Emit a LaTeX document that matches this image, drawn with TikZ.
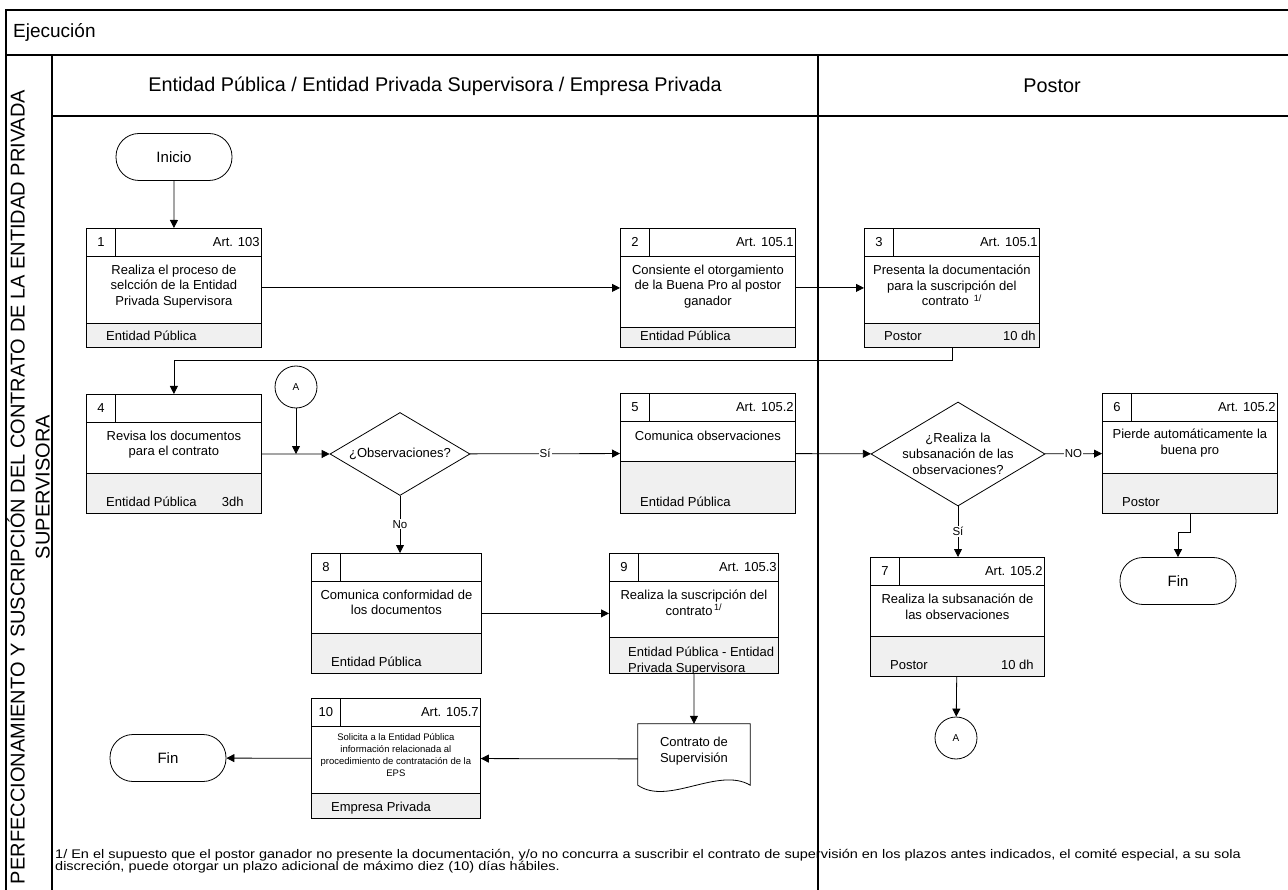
\documentclass[tikz,border=0pt]{standalone}
\usepackage{fontspec}
\setmainfont{Liberation Sans}
\usetikzlibrary{calc,arrows.meta,positioning,shapes.geometric}
\definecolor{footgray}{RGB}{240,240,240}

% activity box: name, left, top, width, height, footer height, number, article
\newcommand{\actbox}[8]{%
  \node[boxframe,minimum width=#4pt,minimum height=#5pt,anchor=north west] (#1) at (#2,#3) {};
  \node[footbar,minimum width=#4pt,minimum height=#6pt,anchor=south west] (#1f) at (#1.south west) {};
  \node[hdrbar,minimum width=#4pt,anchor=north west] (#1h) at (#1.north west) {};
  \node[numcell,anchor=north west] (#1n) at (#1.north west) {#7};
  \node[arttxt,anchor=east] (#1a) at ($(#1h.east)+(-2,0)$) {#8};
}

\begin{document}
\begin{tikzpicture}[x=1pt,y=-1pt,
    lane/.style={line width=1.2pt},
    boxframe/.style={draw,line width=0.8pt,fill=white,inner sep=0pt},
    hdrbar/.style={draw,line width=0.8pt,minimum height=28pt,inner sep=0pt},
    footbar/.style={draw,line width=0.8pt,fill=footgray,inner sep=0pt},
    numcell/.style={draw,line width=0.8pt,minimum width=29pt,minimum height=28pt,inner sep=0pt,font=\fontsize{13}{15.5}\selectfont},
    arttxt/.style={inner sep=0pt,font=\fontsize{13}{15.5}\selectfont},
    bodytxt/.style={inner sep=0pt,align=center,anchor=north,font=\fontsize{13}{15.5}\selectfont},
    foottxt/.style={inner sep=0pt,font=\fontsize{13}{15.5}\selectfont},
    term/.style={draw,line width=0.8pt,rounded corners=23pt,minimum width=116pt,minimum height=47pt,font=\fontsize{15}{17}\selectfont},
    conn/.style={draw,circle,line width=0.8pt,minimum size=42pt,inner sep=0pt,font=\fontsize{10}{12}\selectfont},
    decision/.style={draw,diamond,line width=0.8pt,inner sep=0pt},
    dectxt/.style={inner sep=0pt,align=center,font=\fontsize{13}{16}\selectfont},
    lbl/.style={fill=white,inner sep=1pt,font=\fontsize{11.5}{13}\selectfont},
    arr/.style={-{Triangle[length=8pt,width=8pt]},line width=0.8pt}]
  \useasboundingbox (0,0) rectangle (1288,890);

  % swimlane frame
  \draw[lane] (1288,10) -- (6,10) -- (6,890);
  \draw[lane] (6,55) -- (1288,55);
  \draw[lane] (52,55) -- (52,890);
  \draw[lane] (52,116) -- (1288,116);
  \draw[lane] (818,55) -- (818,890);
  \node[anchor=west,inner sep=0pt,font=\fontsize{19}{22}\selectfont] (phase) at (13,32) {Ejecución};
  \node[inner sep=0pt,font=\fontsize{19.8}{22}\selectfont] (laneA) at (435,86) {Entidad Pública / Entidad Privada Supervisora / Empresa Privada};
  \node[inner sep=0pt,font=\fontsize{19.8}{22}\selectfont] (laneB) at (1052,86) {Postor};
  \node[rotate=90,align=center,inner sep=0pt,font=\fontsize{20}{25}\selectfont] (title) at (28.5,487)
    {PERFECCIONAMIENTO Y SUSCRIPCIÓN DEL CONTRATO DE LA ENTIDAD PRIVADA\\SUPERVISORA};

  % start, ends, connectors
  \node[term] (ini) at (174,157) {Inicio};
  \node[term] (fin1) at (168,758) {Fin};
  \node[term] (fin2) at (1178,581) {Fin};
  \node[conn] (ca1) at (296,387) {A};
  \node[conn] (ca2) at (956,738) {A};

  % activities
  \actbox{b1}{86}{228}{175}{119}{24}{1}{Art. 103}
  \actbox{b2}{620}{228}{175}{119}{20}{2}{Art. 105.1}
  \actbox{b3}{864}{228}{175}{119}{24}{3}{Art. 105.1}
  \actbox{b4}{86}{394}{175}{119}{40}{4}{}
  \actbox{b5}{620}{393}{175}{120}{52}{5}{Art. 105.2}
  \actbox{b6}{1102}{393}{175}{120}{40}{6}{Art. 105.2}
  \actbox{b7}{870}{557}{174}{119}{40}{7}{Art. 105.2}
  \actbox{b8}{311}{553}{170}{120}{40}{8}{}
  \actbox{b9}{609}{553}{169}{120}{36}{9}{Art. 105.3}
  \actbox{b10}{311}{698}{169}{120}{25}{10}{Art. 105.7}

  \node[bodytxt] (b1t) at ($(b1h.south)+(0,8)$) {Realiza el proceso de\\selcción de la Entidad\\Privada Supervisora};
  \node[bodytxt] (b2t) at ($(b2h.south)+(0,8)$) {Consiente el otorgamiento\\de la Buena Pro al postor\\ganador};
  \node[bodytxt] (b3t) at ($(b3h.south)+(0,8)$) {Presenta la documentación\\para la suscripción del\\contrato \textsuperscript{\,1/}};
  \node[bodytxt] (b4t) at ($(b4h.south)+(0,8)$) {Revisa los documentos\\para el contrato};
  \node[bodytxt] (b5t) at ($(b5h.south)+(0,9)$) {Comunica observaciones};
  \node[bodytxt] (b6t) at ($(b6h.south)+(0,7)$) {Pierde automáticamente la\\buena pro};
  \node[bodytxt] (b7t) at ($(b7h.south)+(0,8)$) {Realiza la subsanación de\\las observaciones};
  \node[bodytxt] (b8t) at ($(b8h.south)+(0,8)$) {Comunica conformidad de\\los documentos};
  \node[bodytxt] (b9t) at ($(b9h.south)+(0,8)$) {Realiza la suscripción del\\contrato\textsuperscript{\,1/}};
  \node[bodytxt,font=\fontsize{9.5}{12}\selectfont] (b10t) at ($(b10h.south)+(0,7)$)
    {Solicita a la Entidad Pública\\información relacionada al\\procedimiento de contratación de la\\EPS};

  \node[foottxt,anchor=base west] (b1fl) at ($(b1.south west)+(20,-7)$) {Entidad Pública};
  \node[foottxt,anchor=base west] (b2fl) at ($(b2.south west)+(20,-7)$) {Entidad Pública};
  \node[foottxt,anchor=base west] (b3fl) at ($(b3.south west)+(20,-7)$) {Postor};
  \node[foottxt,anchor=base east] (b3fr) at ($(b3.south east)+(-4,-7)$) {10 dh};
  \node[foottxt,anchor=base west] (b4fl) at ($(b4.south west)+(20,-7)$) {Entidad Pública};
  \node[foottxt,anchor=base east] (b4fr) at ($(b4.south east)+(-18,-7)$) {3dh};
  \node[foottxt,anchor=base west] (b5fl) at ($(b5.south west)+(20,-7)$) {Entidad Pública};
  \node[foottxt,anchor=base west] (b6fl) at ($(b6.south west)+(20,-7)$) {Postor};
  \node[foottxt,anchor=base west] (b7fl) at ($(b7.south west)+(20,-7)$) {Postor};
  \node[foottxt,anchor=base east] (b7fr) at ($(b7.south east)+(-11,-7)$) {10 dh};
  \node[foottxt,anchor=base west] (b8fl) at ($(b8.south west)+(20,-7)$) {Entidad Pública};
  \begin{scope}
    \clip (b9f.south west) rectangle (b9f.north east);
    \node[foottxt,align=left,anchor=north west] (b9fl) at ($(b9f.north west)+(19,10)$) {Entidad Pública - Entidad\\Privada Supervisora};
  \end{scope}
  \node[foottxt,anchor=base west] (b10fl) at ($(b10.south west)+(20,-7)$) {Empresa Privada};

  % decisions
  \node[decision,minimum width=140pt,minimum height=83pt] (d1) at (400,454) {};
  \node[dectxt] (d1t) at (d1) {¿Observaciones?};
  \node[decision,minimum width=174pt,minimum height=104pt] (d2) at (958,454) {};
  \node[dectxt] (d2t) at (d2) {¿Realiza la\\subsanación de las\\observaciones?};

  % document
  \node[minimum width=112pt,minimum height=70pt,inner sep=0pt] (doc) at (694,759) {};
  \draw[line width=0.8pt] (doc.north west) -- (doc.north east) -- ($(doc.south east)+(0,-9)$)
    .. controls ($(doc.south east)+(-32,-28)$) and ($(doc.south west)+(30,12)$) .. ($(doc.south west)+(0,-9)$) -- cycle;
  \node[inner sep=0pt,align=center,font=\fontsize{13}{15.5}\selectfont] (doct) at ($(doc.center)+(0,-8)$) {Contrato de\\Supervisión};

  % flow
  \draw[arr] (ini) -- (b1);
  \draw[arr] (b1) -- (b2);
  \draw[arr] (b2) -- (b3);
  \draw[arr] (b3.south) -- ++(0,13) -| (b4.north);
  \draw[arr] (b4) -- (d1);
  \draw[arr] (ca1) -- (ca1 |- d1);
  \draw[arr] (d1) -- node[lbl] {Sí} (b5);
  \draw[arr] (b5) -- (d2);
  \draw[arr] (d2) -- node[lbl] {NO} (b6);
  \draw[arr] (b6.south) -- ++(0,19) -| (fin2.north);
  \draw[arr] (d2.south) -- node[lbl] {Sí} (d2.south |- b7.north);
  \draw[arr] (b7) -- (ca2);
  \draw[arr] (d1.south) -- node[lbl] {No} (d1.south |- b8.north);
  \draw[arr] (b8) -- (b9);
  \draw[arr] (b9) -- (doc);
  \draw[arr] (doc) -- (b10);
  \draw[arr] (b10) -- (fin1);

  % footnote
  \node[anchor=north west,align=left,inner sep=0pt,font=\fontsize{12.5}{12.5}\selectfont\addfontfeatures{FakeStretch=1.16}] (note) at (55,849)
    {1/ En el supuesto que el postor ganador no presente la documentación, y/o no concurra a suscribir el contrato de supervisión en los plazos antes indicados, el comité especial, a su sola\\discreción, puede otorgar un plazo adicional de máximo diez (10) días hábiles.};
\end{tikzpicture}
\end{document}
